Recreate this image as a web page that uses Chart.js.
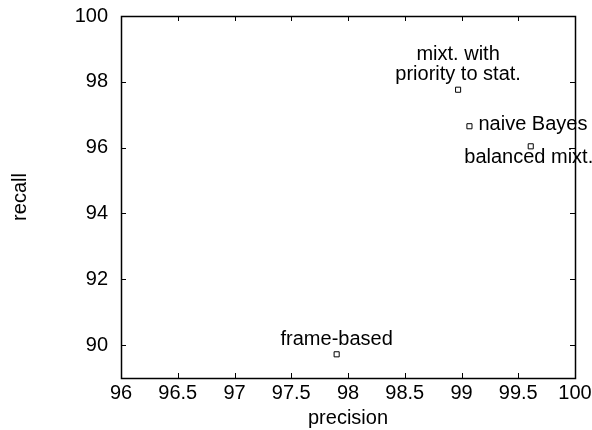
<!DOCTYPE html>
<html>
<head>
<meta charset="utf-8">
<script src="https://cdn.jsdelivr.net/npm/chart.js@4"></script>
<style>
  html, body { margin: 0; padding: 0; background: #fff; }
  #wrap { width: 592px; height: 430px; }
</style>
</head>
<body>
<div id="wrap"><canvas id="prChart"></canvas></div>
<script>
// precision / recall of each method
const methods = ['frame-based', 'mixt. with\npriority to stat.', 'naive Bayes', 'balanced mixt.'];
const precision = [97.90, 98.97, 99.07, 99.61];
const recall = [89.72, 97.76, 96.65, 96.04];
const labelSide = ['above', 'above', 'right', 'below'];

const xTicks = [96, 96.5, 97, 97.5, 98, 98.5, 99, 99.5, 100];
const yTicks = [90, 92, 94, 96, 98, 100];

const FONT = 'Liberation Sans, Arial, Helvetica, sans-serif';

// gnuplot-like frame with inward ticks, plus the point labels
const framePlugin = {
    id: 'frame',
    afterDatasetsDraw(chart) {
        const c = chart.ctx;
        const a = chart.chartArea;
        const xs = chart.scales.x, ys = chart.scales.y;
        const t = 5;
        c.save();
        c.strokeStyle = '#000';
        c.lineWidth = 1;
        c.beginPath();
        xTicks.forEach(v => {
            const px = Math.round(xs.getPixelForValue(v)) + 0.5;
            c.moveTo(px, a.bottom); c.lineTo(px, a.bottom - t);
            c.moveTo(px, a.top); c.lineTo(px, a.top + t);
        });
        yTicks.forEach(v => {
            const py = Math.round(ys.getPixelForValue(v)) + 0.5;
            c.moveTo(a.left, py); c.lineTo(a.left + t, py);
            c.moveTo(a.right, py); c.lineTo(a.right - t, py);
        });
        c.stroke();
        c.lineWidth = 1.5;
        c.strokeRect(Math.round(a.left) + 0.5, Math.round(a.top) + 0.5,
            Math.round(a.right - a.left), Math.round(a.bottom - a.top));

        c.fillStyle = '#000';
        c.font = '20px ' + FONT;
        const meta = chart.getDatasetMeta(0);
        meta.data.forEach((pt, i) => {
            const lines = methods[i].split('\n');
            const side = labelSide[i];
            if (side === 'right') {
                c.textAlign = 'left'; c.textBaseline = 'middle';
                c.fillText(lines[0], pt.x + 9, pt.y - 2);
            } else if (side === 'below') {
                c.textAlign = 'center'; c.textBaseline = 'middle';
                c.fillText(lines[0], pt.x - 2, pt.y + 11);
            } else {
                c.textAlign = 'center'; c.textBaseline = 'middle';
                const n = lines.length;
                lines.forEach((ln, k) => {
                    c.fillText(ln, pt.x, pt.y - 15 - (n - 1 - k) * 20);
                });
            }
        });
        c.restore();
    }
};

new Chart(document.getElementById('prChart'), {
    type: 'scatter',
    data: {
        datasets: [{
            data: precision.map((p, i) => ({ x: p, y: recall[i] })),
            pointStyle: 'rect',
            pointRadius: 3.6,
            pointHoverRadius: 3.6,
            backgroundColor: '#fff',
            borderColor: '#000',
            borderWidth: 1
        }]
    },
    options: {
        responsive: true,
        maintainAspectRatio: false,
        animation: false,
        layout: { padding: { top: 16, right: 17, left: 0, bottom: 0 } },
        plugins: {
            legend: { display: false },
            tooltip: { enabled: false }
        },
        scales: {
            x: {
                type: 'linear',
                min: 96,
                max: 100,
                afterBuildTicks: s => { s.ticks = xTicks.map(v => ({ value: v })); },
                afterFit: s => { s.height = 52; s.paddingLeft = 0; s.paddingRight = 0; },
                grid: { display: false, drawTicks: false },
                border: { display: false },
                ticks: {
                    color: '#000',
                    padding: 3,
                    maxRotation: 0,
                    autoSkip: false,
                    font: { family: FONT, size: 20 },
                    callback: v => String(v)
                },
                title: {
                    display: true,
                    text: 'precision',
                    color: '#000',
                    padding: { top: 0, bottom: 0 },
                    font: { family: FONT, size: 20 }
                }
            },
            y: {
                type: 'linear',
                min: 89,
                max: 100,
                afterBuildTicks: s => { s.ticks = yTicks.map(v => ({ value: v })); },
                afterFit: s => { s.width = 121; s.paddingTop = 0; s.paddingBottom = 0; },
                grid: { display: false, drawTicks: false },
                border: { display: false },
                ticks: {
                    color: '#000',
                    padding: 13,
                    autoSkip: false,
                    font: { family: FONT, size: 20 }
                },
                title: {
                    display: true,
                    text: 'recall',
                    color: '#000',
                    padding: { top: 8, bottom: 0 },
                    font: { family: FONT, size: 20 }
                }
            }
        }
    },
    plugins: [framePlugin]
});
</script>
</body>
</html>
